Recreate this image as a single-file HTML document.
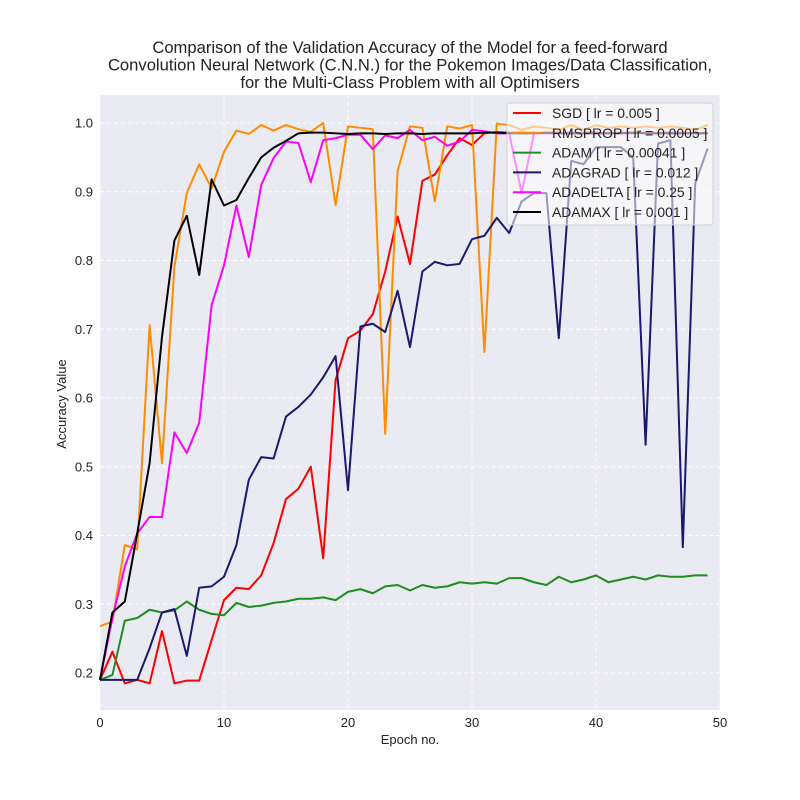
<!DOCTYPE html>
<html><head><meta charset="utf-8">
<style>
body{margin:0;background:#fff;}
svg{display:block;font-family:"Liberation Sans",Arial,sans-serif;}
</style></head>
<body>
<svg id="chart" width="800" height="800" viewBox="0 0 800 800" xmlns="http://www.w3.org/2000/svg">
<g font-size="16.6" fill="#222" text-anchor="middle">
<text x="410" y="53">Comparison of the Validation Accuracy of the Model for a feed-forward</text>
<text x="410" y="70.5">Convolution Neural Network (C.N.N.) for the Pokemon Images/Data Classification,</text>
<text x="410" y="88">for the Multi-Class Problem with all Optimisers</text>
</g>
<rect x="100" y="95" width="620" height="615" fill="#eaeaf2"/>
<g id="grid"></g>
<g id="ticks" font-size="13" fill="#222"></g>
<g id="series"></g>
<text x="410" y="744" font-size="13" text-anchor="middle" fill="#222">Epoch no.</text>
<text x="66" y="404" font-size="13" text-anchor="middle" fill="#222" transform="rotate(-90 66 404)">Accuracy Value</text>
<g id="legend"></g>
</svg>
<script>
const xTicks=[0,10,20,30,40,50];
const yTicks=[0.2,0.3,0.4,0.5,0.6,0.7,0.8,0.9,1.0];
const seriesNames=["SGD [ lr = 0.005 ]","RMSPROP [ lr = 0.0005 ]","ADAM [ lr = 0.00041 ]","ADAGRAD [ lr = 0.012 ]","ADADELTA [ lr = 0.25 ]","ADAMAX [ lr = 0.001 ]"];
const seriesColors=["#ff0000","#ff8c00","#228b22","#191970","#ff00ff","#000000"];
const sgd=[0.19,0.231,0.185,0.19,0.185,0.261,0.185,0.189,0.189,0.248,0.306,0.324,0.322,0.342,0.389,0.453,0.468,0.50,0.367,0.626,0.687,0.698,0.722,0.784,0.864,0.795,0.916,0.925,0.953,0.978,0.968,0.985,0.987,0.986,0.986,0.985,0.986,0.986,0.985,0.986,0.986,0.985,0.986,0.986,0.985,0.986,0.986,0.986,0.985,0.986];
const rmsprop=[0.268,0.275,0.386,0.38,0.706,0.505,0.791,0.898,0.94,0.905,0.958,0.989,0.984,0.997,0.989,0.997,0.991,0.987,1.0,0.881,0.995,0.993,0.991,0.548,0.93,0.995,0.993,0.886,0.995,0.992,0.997,0.667,0.999,0.997,0.99,0.995,0.993,0.99,0.997,0.99,0.997,0.993,0.995,0.993,0.995,0.993,0.995,0.993,0.99,0.997];
const adam=[0.19,0.197,0.276,0.28,0.292,0.288,0.291,0.304,0.292,0.286,0.284,0.302,0.296,0.298,0.302,0.304,0.308,0.308,0.31,0.306,0.318,0.322,0.316,0.326,0.328,0.32,0.328,0.324,0.326,0.332,0.33,0.332,0.33,0.338,0.338,0.332,0.328,0.34,0.332,0.336,0.342,0.332,0.336,0.34,0.336,0.342,0.34,0.34,0.342,0.342];
const adagrad=[0.19,0.19,0.19,0.19,0.236,0.288,0.293,0.225,0.324,0.326,0.34,0.386,0.481,0.514,0.512,0.573,0.587,0.605,0.63,0.661,0.466,0.704,0.708,0.696,0.756,0.674,0.784,0.798,0.793,0.795,0.831,0.836,0.862,0.84,0.886,0.898,0.898,0.687,0.945,0.94,0.965,0.965,0.965,0.95,0.532,0.97,0.975,0.383,0.912,0.963];
const adadelta=[0.19,0.28,0.355,0.403,0.427,0.427,0.55,0.52,0.564,0.735,0.793,0.88,0.805,0.91,0.949,0.973,0.971,0.914,0.975,0.978,0.983,0.983,0.962,0.982,0.978,0.99,0.975,0.98,0.967,0.973,0.99,0.988,0.985,0.985,0.898,0.985,0.985,0.985,0.986,0.985,0.985,0.986,0.985,0.985,0.986,0.985,0.985,0.986,0.985,0.985];
const adamax=[0.19,0.288,0.304,0.403,0.505,0.689,0.829,0.865,0.779,0.918,0.88,0.888,0.92,0.95,0.964,0.974,0.985,0.986,0.986,0.985,0.984,0.985,0.985,0.984,0.985,0.985,0.984,0.985,0.985,0.985,0.985,0.986,0.986,0.985,0.985,0.985,0.986,0.985,0.985,0.985,0.985,0.985,0.985,0.986,0.985,0.985,0.985,0.985,0.985,0.985];
const allSeries=[sgd,rmsprop,adam,adagrad,adadelta,adamax];

const NS="http://www.w3.org/2000/svg";
function xs(e){return 100+e*12.4;}
function ys(v){return 673-(v-0.2)*687.5;}
function mk(tag,attrs,parent){const el=document.createElementNS(NS,tag);for(const k in attrs)el.setAttribute(k,attrs[k]);parent.appendChild(el);return el;}
const grid=document.getElementById('grid'),ticks=document.getElementById('ticks');
xTicks.forEach(t=>{
 const l=mk('line',{x1:xs(t),x2:xs(t),y1:95,y2:710,stroke:'#fff','stroke-width':1,'stroke-dasharray':'4,3'},grid);
 
 
 const tx=mk('text',{x:xs(t),y:727,'text-anchor':'middle'},ticks);tx.textContent=t;
 
 
});
yTicks.forEach(t=>{
 const l=mk('line',{x1:100,x2:720,y1:ys(t),y2:ys(t),stroke:'#fff','stroke-width':1,'stroke-dasharray':'4,3'},grid);
 
 
 const tx=mk('text',{x:93,y:ys(t)+4.5,'text-anchor':'end'},ticks);tx.textContent=t.toFixed(1);
 
 
});
const sg=document.getElementById('series');
allSeries.forEach((arr,i)=>{
 const p=mk('polyline',{points:arr.map((v,e)=>xs(e)+','+ys(v)).join(' '),fill:'none',stroke:seriesColors[i],'stroke-width':2,'stroke-linejoin':'round'},sg);
 
 
});
const lg=document.getElementById('legend');
const box=mk('rect',{x:507,y:103,width:206,height:122,rx:3,fill:'#ffffff','fill-opacity':0.55,stroke:'#d0d0d8'},lg);


seriesNames.forEach((n,i)=>{
 const y=113+i*19.8;
 const ln=mk('line',{x1:513,x2:541,y1:y,y2:y,stroke:seriesColors[i],'stroke-width':2},lg);
 
 
 const t=mk('text',{x:552,y:y+5,'font-size':13.9,fill:'#222'},lg);t.textContent=n;
 
 
});
</script>
</body></html>
